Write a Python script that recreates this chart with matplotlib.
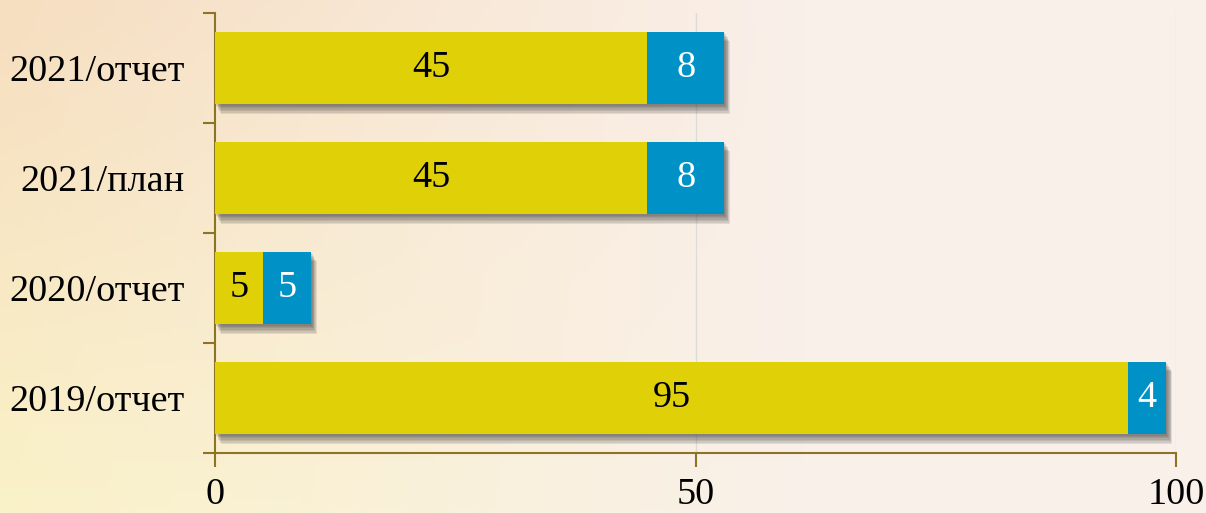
import matplotlib.pyplot as plt
import matplotlib.patheffects as pe
import numpy as np

categories = ["2019/отчет", "2020/отчет", "2021/план", "2021/отчет"]
first_part = [95, 5, 45, 45]
second_part = [4, 5, 8, 8]
x_ticks = [0, 50, 100]

YELLOW = "#E0D008"
BLUE = "#0091C6"
AXIS = "#8C7424"
FS = 27.5

plt.rcParams["font.family"] = ["Liberation Serif", "DejaVu Serif"]

fig = plt.figure(figsize=(12.06, 5.13), dpi=100)

# soft warm background: peach at top-left, pale yellow bottom-left, pinkish right
bg = fig.add_axes([0, 0, 1, 1], zorder=-10)
bg.axis("off")
nx, ny = 240, 100
gx = np.linspace(0, 1, nx)[None, :]
gy = np.linspace(0, 1, ny)[:, None]
top_left = np.array([246, 222, 192]) / 255
bot_left = np.array([250, 242, 200]) / 255
right = np.array([250, 240, 234]) / 255
left = top_left * (1 - gy[..., None]) + bot_left * gy[..., None]
w = np.clip(gx * 1.5, 0, 1)[..., None]
img = left * (1 - w) + right * w
bg.imshow(img, aspect="auto", extent=[0, 1, 0, 1])

ax = fig.add_axes([0.1783, 0.117, 0.7968, 0.8577])
ax.patch.set_alpha(0)

# stacked faint shadows give a soft drop shadow under each bar
shadow = [pe.SimplePatchShadow(offset=(d * 0.6, -d), shadow_rgbFace="#303030",
                               alpha=0.11)
          for d in (1, 2, 3, 4, 5, 6, 7)] + [pe.Normal()]

y = np.arange(len(categories))
ax.barh(y, first_part, height=0.66, color=YELLOW, zorder=3,
        path_effects=shadow)
ax.barh(y, second_part, left=first_part, height=0.66, color=BLUE,
        zorder=3, path_effects=shadow)

for i in range(len(categories)):
    ax.text(first_part[i] / 2, y[i], str(first_part[i]), ha="center",
            va="center", fontsize=FS, color="black", zorder=5)
    ax.text(first_part[i] + second_part[i] / 2, y[i], str(second_part[i]),
            ha="center", va="center", fontsize=FS, color="white", zorder=5)

ax.set_xlim(0, 100)
ax.set_ylim(-0.5, len(categories) - 0.5)

ax.set_xticks(x_ticks)
ax.set_xticklabels([str(t) for t in x_ticks])
ax.set_yticks(y)
ax.set_yticklabels(categories)
ax.set_yticks(np.arange(-0.5, len(categories)), minor=True)

ax.tick_params(axis="x", length=10, width=1.5, color=AXIS, labelsize=FS,
               pad=8)
ax.tick_params(axis="y", which="major", length=0, labelsize=FS, pad=22)
ax.tick_params(axis="y", which="minor", length=9, width=1.5, color=AXIS)

for side in ["top", "right"]:
    ax.spines[side].set_visible(False)
for side in ["left", "bottom"]:
    ax.spines[side].set_color(AXIS)
    ax.spines[side].set_linewidth(1.5)

for xv in x_ticks[1:]:
    ax.axvline(xv, color="#DCDCDC", linewidth=1, zorder=1)

fig.savefig("out.png", dpi=100)
